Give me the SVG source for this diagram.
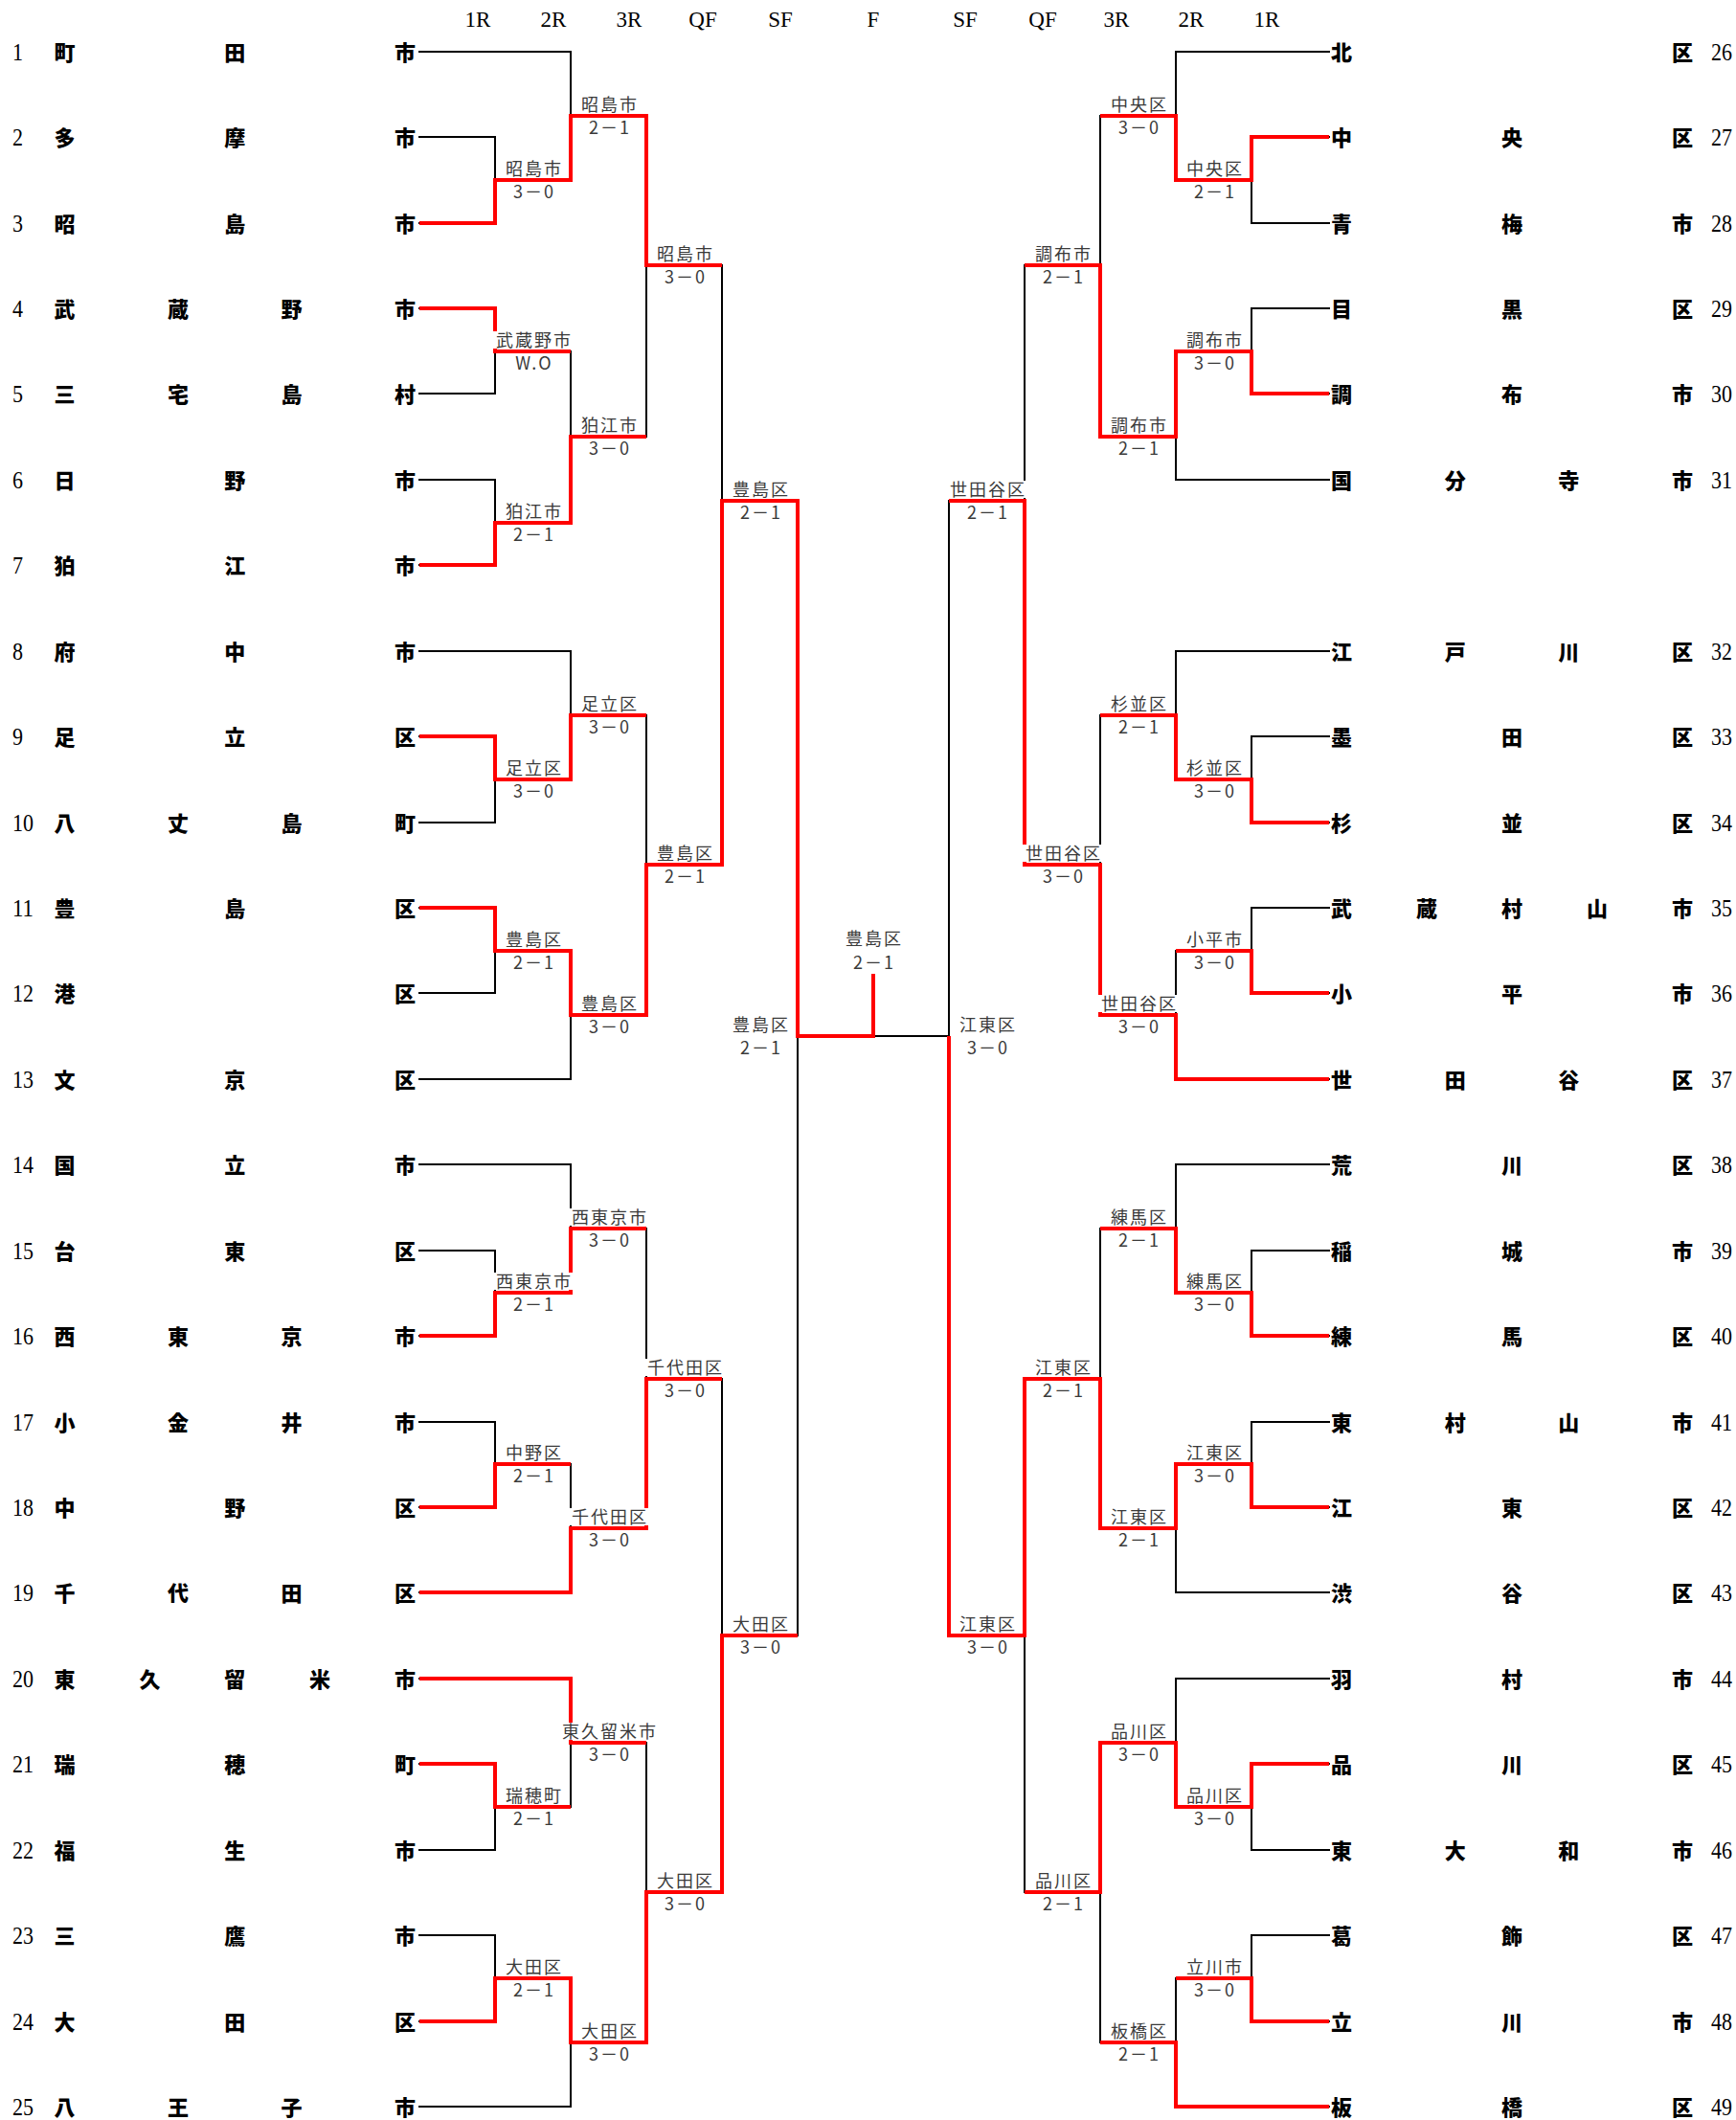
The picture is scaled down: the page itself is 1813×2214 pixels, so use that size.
<svg xmlns="http://www.w3.org/2000/svg" width="1813" height="2214" viewBox="0 0 1813 2214">
<style>
.b{fill:none;stroke:#000;stroke-width:2;stroke-linecap:square}
.r{fill:none;stroke:#f00;stroke-width:4;stroke-linejoin:miter;stroke-linecap:butt}
.nm{font-family:"Noto Sans CJK JP",sans-serif;font-weight:900;font-size:22px;fill:#000;text-anchor:middle}
.no{font-family:"Liberation Serif",serif;font-size:26px;fill:#000}
.hd{font-family:"Liberation Serif",serif;font-size:23px;fill:#000;text-anchor:middle}
.lb{font-family:"Noto Sans CJK JP",sans-serif;font-size:18px;fill:#3a3a3a;text-anchor:middle;letter-spacing:2px}
.bg{fill:#fff}
</style>
<rect width="1813" height="2214" fill="#fff"/>
<g id="headers">
<text class="hd" x="499" y="28">1R</text><text class="hd" x="578" y="28">2R</text><text class="hd" x="657" y="28">3R</text><text class="hd" x="734" y="28">QF</text><text class="hd" x="815" y="28">SF</text><text class="hd" x="912" y="28">F</text><text class="hd" x="1008" y="28">SF</text><text class="hd" x="1089" y="28">QF</text><text class="hd" x="1166" y="28">3R</text><text class="hd" x="1244" y="28">2R</text><text class="hd" x="1323" y="28">1R</text>
</g>
<g id="connectors">
<path class="b" d="M438 54H596 M438 143H517V233H438 M517 188H596 M438 322H517V411H438 M517 367H596 M438 501H517V590H438 M517 546H596 M438 680H596 M438 769H517V859H438 M517 814H596 M438 948H517V1037H438 M517 993H596 M438 1127H596 M438 1216H596 M438 1306H517V1395H438 M517 1350H596 M438 1485H517V1574H438 M517 1529H596 M438 1663H596 M438 1753H596 M438 1842H517V1932H438 M517 1887H596 M438 2021H517V2111H438 M517 2066H596 M438 2200H596
M596 54V188 M596 121H675 M596 367V546 M596 456H675 M596 680V814 M596 747H675 M596 993V1127 M596 1060H675 M596 1216V1350 M596 1283H675 M596 1529V1663 M596 1596H675 M596 1753V1887 M596 1820H675 M596 2066V2200 M596 2133H675
M675 121V456 M675 277H754 M675 747V1060 M675 903H754 M675 1283V1596 M675 1440H754 M675 1820V2133 M675 1976H754
M754 277V903 M754 523H833 M754 1440V1976 M754 1708H833
M833 523V1708 M833 1082H991
M991 523V1708
M1070 277V903 M1070 523H991 M1070 1440V1976 M1070 1708H991
M1149 121V456 M1149 277H1070 M1149 747V1060 M1149 903H1070 M1149 1283V1596 M1149 1440H1070 M1149 1820V2133 M1149 1976H1070
M1228 54V188 M1228 121H1149 M1228 367V501 M1228 456H1149 M1228 680V814 M1228 747H1149 M1228 993V1127 M1228 1060H1149 M1228 1216V1350 M1228 1283H1149 M1228 1529V1663 M1228 1596H1149 M1228 1753V1887 M1228 1820H1149 M1228 2066V2200 M1228 2133H1149
M1388 54H1228 M1388 143H1307V233H1388 M1307 188H1228 M1388 322H1307V411H1388 M1307 367H1228 M1388 501H1228 M1388 680H1228 M1388 769H1307V859H1388 M1307 814H1228 M1388 948H1307V1037H1388 M1307 993H1228 M1388 1127H1228 M1388 1216H1228 M1388 1306H1307V1395H1388 M1307 1350H1228 M1388 1485H1307V1574H1388 M1307 1529H1228 M1388 1663H1228 M1388 1753H1228 M1388 1842H1307V1932H1388 M1307 1887H1228 M1388 2021H1307V2111H1388 M1307 2066H1228 M1388 2200H1228"/>
<path class="r" d="M438 233H517V188H596V121H675V277H754"/>
<path class="r" d="M438 322H517V367H596"/>
<path class="r" d="M438 590H517V546H596V456H675"/>
<path class="r" d="M438 769H517V814H596V747H675"/>
<path class="r" d="M438 948H517V993H596V1060H675V903H754V523H833V1082H912V1017"/>
<path class="r" d="M438 1395H517V1350H596V1283H675"/>
<path class="r" d="M438 1574H517V1529H596"/>
<path class="r" d="M438 1663H596V1596H675V1440H754"/>
<path class="r" d="M438 1753H596V1820H675"/>
<path class="r" d="M438 1842H517V1887H596"/>
<path class="r" d="M438 2111H517V2066H596V2133H675V1976H754V1708H833"/>
<path class="r" d="M1388 143H1307V188H1228V121H1149"/>
<path class="r" d="M1388 411H1307V367H1228V456H1149V277H1070"/>
<path class="r" d="M1388 859H1307V814H1228V747H1149"/>
<path class="r" d="M1388 1037H1307V993H1228"/>
<path class="r" d="M1388 1127H1228V1060H1149V903H1070V523H991"/>
<path class="r" d="M1388 1395H1307V1350H1228V1283H1149"/>
<path class="r" d="M1388 1574H1307V1529H1228V1596H1149V1440H1070V1708H991V1082"/>
<path class="r" d="M1388 1842H1307V1887H1228V1820H1149V1976H1070"/>
<path class="r" d="M1388 2111H1307V2066H1228"/>
<path class="r" d="M1388 2200H1228V2133H1149"/>
</g>
<g id="results">
<rect class="bg" x="515" y="346" width="84" height="18"/>
<rect class="bg" x="515" y="1329" width="84" height="18"/>
<rect class="bg" x="593.5" y="1262" width="84" height="18"/>
<rect class="bg" x="593.5" y="1575" width="84" height="18"/>
<rect class="bg" x="586" y="1799" width="99" height="18"/>
<rect class="bg" x="672.5" y="1419" width="84" height="18"/>
<rect class="bg" x="1146.5" y="1039" width="84" height="18"/>
<rect class="bg" x="1067.5" y="882" width="84" height="18"/>
<rect class="bg" x="988.5" y="502" width="84" height="18"/>
<g id="m-L1R"><text class="lb" x="558" y="183">昭島市</text><text class="lb" x="558" y="207">3－0</text><text class="lb" x="558" y="362">武蔵野市</text><text class="lb" x="558" y="386">W.O</text><text class="lb" x="558" y="541">狛江市</text><text class="lb" x="558" y="565">2－1</text><text class="lb" x="558" y="809">足立区</text><text class="lb" x="558" y="833">3－0</text><text class="lb" x="558" y="988">豊島区</text><text class="lb" x="558" y="1012">2－1</text><text class="lb" x="558" y="1345">西東京市</text><text class="lb" x="558" y="1369">2－1</text><text class="lb" x="558" y="1524">中野区</text><text class="lb" x="558" y="1548">2－1</text><text class="lb" x="558" y="1882">瑞穂町</text><text class="lb" x="558" y="1906">2－1</text><text class="lb" x="558" y="2061">大田区</text><text class="lb" x="558" y="2085">2－1</text></g>
<g id="m-L2R"><text class="lb" x="637" y="116">昭島市</text><text class="lb" x="637" y="140">2－1</text><text class="lb" x="637" y="451">狛江市</text><text class="lb" x="637" y="475">3－0</text><text class="lb" x="637" y="742">足立区</text><text class="lb" x="637" y="766">3－0</text><text class="lb" x="637" y="1055">豊島区</text><text class="lb" x="637" y="1079">3－0</text><text class="lb" x="637" y="1278">西東京市</text><text class="lb" x="637" y="1302">3－0</text><text class="lb" x="637" y="1591">千代田区</text><text class="lb" x="637" y="1615">3－0</text><text class="lb" x="637" y="1815">東久留米市</text><text class="lb" x="637" y="1839">3－0</text><text class="lb" x="637" y="2128">大田区</text><text class="lb" x="637" y="2152">3－0</text></g>
<g id="m-L3R"><text class="lb" x="716" y="272">昭島市</text><text class="lb" x="716" y="296">3－0</text><text class="lb" x="716" y="898">豊島区</text><text class="lb" x="716" y="922">2－1</text><text class="lb" x="716" y="1435">千代田区</text><text class="lb" x="716" y="1459">3－0</text><text class="lb" x="716" y="1971">大田区</text><text class="lb" x="716" y="1995">3－0</text></g>
<g id="m-LQF"><text class="lb" x="795" y="518">豊島区</text><text class="lb" x="795" y="542">2－1</text><text class="lb" x="795" y="1703">大田区</text><text class="lb" x="795" y="1727">3－0</text></g>
<g id="m-LSF"><text class="lb" x="795" y="1077">豊島区</text><text class="lb" x="795" y="1101">2－1</text></g>
<g id="m-F"><text class="lb" x="913" y="987">豊島区</text><text class="lb" x="913" y="1012">2－1</text></g>
<g id="m-RSF"><text class="lb" x="1032" y="1077">江東区</text><text class="lb" x="1032" y="1101">3－0</text></g>
<g id="m-RQF"><text class="lb" x="1032" y="518">世田谷区</text><text class="lb" x="1032" y="542">2－1</text><text class="lb" x="1032" y="1703">江東区</text><text class="lb" x="1032" y="1727">3－0</text></g>
<g id="m-R3R"><text class="lb" x="1111" y="272">調布市</text><text class="lb" x="1111" y="296">2－1</text><text class="lb" x="1111" y="898">世田谷区</text><text class="lb" x="1111" y="922">3－0</text><text class="lb" x="1111" y="1435">江東区</text><text class="lb" x="1111" y="1459">2－1</text><text class="lb" x="1111" y="1971">品川区</text><text class="lb" x="1111" y="1995">2－1</text></g>
<g id="m-R2R"><text class="lb" x="1190" y="116">中央区</text><text class="lb" x="1190" y="140">3－0</text><text class="lb" x="1190" y="451">調布市</text><text class="lb" x="1190" y="475">2－1</text><text class="lb" x="1190" y="742">杉並区</text><text class="lb" x="1190" y="766">2－1</text><text class="lb" x="1190" y="1055">世田谷区</text><text class="lb" x="1190" y="1079">3－0</text><text class="lb" x="1190" y="1278">練馬区</text><text class="lb" x="1190" y="1302">2－1</text><text class="lb" x="1190" y="1591">江東区</text><text class="lb" x="1190" y="1615">2－1</text><text class="lb" x="1190" y="1815">品川区</text><text class="lb" x="1190" y="1839">3－0</text><text class="lb" x="1190" y="2128">板橋区</text><text class="lb" x="1190" y="2152">2－1</text></g>
<g id="m-R1R"><text class="lb" x="1269" y="183">中央区</text><text class="lb" x="1269" y="207">2－1</text><text class="lb" x="1269" y="362">調布市</text><text class="lb" x="1269" y="386">3－0</text><text class="lb" x="1269" y="809">杉並区</text><text class="lb" x="1269" y="833">3－0</text><text class="lb" x="1269" y="988">小平市</text><text class="lb" x="1269" y="1012">3－0</text><text class="lb" x="1269" y="1345">練馬区</text><text class="lb" x="1269" y="1369">3－0</text><text class="lb" x="1269" y="1524">江東区</text><text class="lb" x="1269" y="1548">3－0</text><text class="lb" x="1269" y="1882">品川区</text><text class="lb" x="1269" y="1906">3－0</text><text class="lb" x="1269" y="2061">立川市</text><text class="lb" x="1269" y="2085">3－0</text></g>
</g>
<g id="teams-left">
<g id="t1"><text class="no" x="13" y="63" textLength="11" lengthAdjust="spacingAndGlyphs">1</text><text class="nm" x="67.5 245.25 423" y="62.5">町田市</text></g>
<g id="t2"><text class="no" x="13" y="152" textLength="11" lengthAdjust="spacingAndGlyphs">2</text><text class="nm" x="67.5 245.25 423" y="151.5">多摩市</text></g>
<g id="t3"><text class="no" x="13" y="242" textLength="11" lengthAdjust="spacingAndGlyphs">3</text><text class="nm" x="67.5 245.25 423" y="241.5">昭島市</text></g>
<g id="t4"><text class="no" x="13" y="331" textLength="11" lengthAdjust="spacingAndGlyphs">4</text><text class="nm" x="67.5 186 304.5 423" y="330.5">武蔵野市</text></g>
<g id="t5"><text class="no" x="13" y="420" textLength="11" lengthAdjust="spacingAndGlyphs">5</text><text class="nm" x="67.5 186 304.5 423" y="419.5">三宅島村</text></g>
<g id="t6"><text class="no" x="13" y="510" textLength="11" lengthAdjust="spacingAndGlyphs">6</text><text class="nm" x="67.5 245.25 423" y="509.5">日野市</text></g>
<g id="t7"><text class="no" x="13" y="599" textLength="11" lengthAdjust="spacingAndGlyphs">7</text><text class="nm" x="67.5 245.25 423" y="598.5">狛江市</text></g>
<g id="t8"><text class="no" x="13" y="689" textLength="11" lengthAdjust="spacingAndGlyphs">8</text><text class="nm" x="67.5 245.25 423" y="688.5">府中市</text></g>
<g id="t9"><text class="no" x="13" y="778" textLength="11" lengthAdjust="spacingAndGlyphs">9</text><text class="nm" x="67.5 245.25 423" y="777.5">足立区</text></g>
<g id="t10"><text class="no" x="13" y="868" textLength="22" lengthAdjust="spacingAndGlyphs">10</text><text class="nm" x="67.5 186 304.5 423" y="867.5">八丈島町</text></g>
<g id="t11"><text class="no" x="13" y="957" textLength="22" lengthAdjust="spacingAndGlyphs">11</text><text class="nm" x="67.5 245.25 423" y="956.5">豊島区</text></g>
<g id="t12"><text class="no" x="13" y="1046" textLength="22" lengthAdjust="spacingAndGlyphs">12</text><text class="nm" x="67.5 423" y="1045.5">港区</text></g>
<g id="t13"><text class="no" x="13" y="1136" textLength="22" lengthAdjust="spacingAndGlyphs">13</text><text class="nm" x="67.5 245.25 423" y="1135.5">文京区</text></g>
<g id="t14"><text class="no" x="13" y="1225" textLength="22" lengthAdjust="spacingAndGlyphs">14</text><text class="nm" x="67.5 245.25 423" y="1224.5">国立市</text></g>
<g id="t15"><text class="no" x="13" y="1315" textLength="22" lengthAdjust="spacingAndGlyphs">15</text><text class="nm" x="67.5 245.25 423" y="1314.5">台東区</text></g>
<g id="t16"><text class="no" x="13" y="1404" textLength="22" lengthAdjust="spacingAndGlyphs">16</text><text class="nm" x="67.5 186 304.5 423" y="1403.5">西東京市</text></g>
<g id="t17"><text class="no" x="13" y="1494" textLength="22" lengthAdjust="spacingAndGlyphs">17</text><text class="nm" x="67.5 186 304.5 423" y="1493.5">小金井市</text></g>
<g id="t18"><text class="no" x="13" y="1583" textLength="22" lengthAdjust="spacingAndGlyphs">18</text><text class="nm" x="67.5 245.25 423" y="1582.5">中野区</text></g>
<g id="t19"><text class="no" x="13" y="1672" textLength="22" lengthAdjust="spacingAndGlyphs">19</text><text class="nm" x="67.5 186 304.5 423" y="1671.5">千代田区</text></g>
<g id="t20"><text class="no" x="13" y="1762" textLength="22" lengthAdjust="spacingAndGlyphs">20</text><text class="nm" x="67.5 156.4 245.25 334.1 423" y="1761.5">東久留米市</text></g>
<g id="t21"><text class="no" x="13" y="1851" textLength="22" lengthAdjust="spacingAndGlyphs">21</text><text class="nm" x="67.5 245.25 423" y="1850.5">瑞穂町</text></g>
<g id="t22"><text class="no" x="13" y="1941" textLength="22" lengthAdjust="spacingAndGlyphs">22</text><text class="nm" x="67.5 245.25 423" y="1940.5">福生市</text></g>
<g id="t23"><text class="no" x="13" y="2030" textLength="22" lengthAdjust="spacingAndGlyphs">23</text><text class="nm" x="67.5 245.25 423" y="2029.5">三鷹市</text></g>
<g id="t24"><text class="no" x="13" y="2120" textLength="22" lengthAdjust="spacingAndGlyphs">24</text><text class="nm" x="67.5 245.25 423" y="2119.5">大田区</text></g>
<g id="t25"><text class="no" x="13" y="2209" textLength="22" lengthAdjust="spacingAndGlyphs">25</text><text class="nm" x="67.5 186 304.5 423" y="2208.5">八王子市</text></g>
</g>
<g id="teams-right">
<g id="t26"><text class="nm" x="1401 1757" y="62.5">北区</text><text class="no" x="1787" y="63" textLength="22" lengthAdjust="spacingAndGlyphs">26</text></g>
<g id="t27"><text class="nm" x="1401 1579 1757" y="151.5">中央区</text><text class="no" x="1787" y="152" textLength="22" lengthAdjust="spacingAndGlyphs">27</text></g>
<g id="t28"><text class="nm" x="1401 1579 1757" y="241.5">青梅市</text><text class="no" x="1787" y="242" textLength="22" lengthAdjust="spacingAndGlyphs">28</text></g>
<g id="t29"><text class="nm" x="1401 1579 1757" y="330.5">目黒区</text><text class="no" x="1787" y="331" textLength="22" lengthAdjust="spacingAndGlyphs">29</text></g>
<g id="t30"><text class="nm" x="1401 1579 1757" y="419.5">調布市</text><text class="no" x="1787" y="420" textLength="22" lengthAdjust="spacingAndGlyphs">30</text></g>
<g id="t31"><text class="nm" x="1401 1519.7 1638.3 1757" y="509.5">国分寺市</text><text class="no" x="1787" y="510" textLength="22" lengthAdjust="spacingAndGlyphs">31</text></g>
<g id="t32"><text class="nm" x="1401 1519.7 1638.3 1757" y="688.5">江戸川区</text><text class="no" x="1787" y="689" textLength="22" lengthAdjust="spacingAndGlyphs">32</text></g>
<g id="t33"><text class="nm" x="1401 1579 1757" y="777.5">墨田区</text><text class="no" x="1787" y="778" textLength="22" lengthAdjust="spacingAndGlyphs">33</text></g>
<g id="t34"><text class="nm" x="1401 1579 1757" y="867.5">杉並区</text><text class="no" x="1787" y="868" textLength="22" lengthAdjust="spacingAndGlyphs">34</text></g>
<g id="t35"><text class="nm" x="1401 1490 1579 1668 1757" y="956.5">武蔵村山市</text><text class="no" x="1787" y="957" textLength="22" lengthAdjust="spacingAndGlyphs">35</text></g>
<g id="t36"><text class="nm" x="1401 1579 1757" y="1045.5">小平市</text><text class="no" x="1787" y="1046" textLength="22" lengthAdjust="spacingAndGlyphs">36</text></g>
<g id="t37"><text class="nm" x="1401 1519.7 1638.3 1757" y="1135.5">世田谷区</text><text class="no" x="1787" y="1136" textLength="22" lengthAdjust="spacingAndGlyphs">37</text></g>
<g id="t38"><text class="nm" x="1401 1579 1757" y="1224.5">荒川区</text><text class="no" x="1787" y="1225" textLength="22" lengthAdjust="spacingAndGlyphs">38</text></g>
<g id="t39"><text class="nm" x="1401 1579 1757" y="1314.5">稲城市</text><text class="no" x="1787" y="1315" textLength="22" lengthAdjust="spacingAndGlyphs">39</text></g>
<g id="t40"><text class="nm" x="1401 1579 1757" y="1403.5">練馬区</text><text class="no" x="1787" y="1404" textLength="22" lengthAdjust="spacingAndGlyphs">40</text></g>
<g id="t41"><text class="nm" x="1401 1519.7 1638.3 1757" y="1493.5">東村山市</text><text class="no" x="1787" y="1494" textLength="22" lengthAdjust="spacingAndGlyphs">41</text></g>
<g id="t42"><text class="nm" x="1401 1579 1757" y="1582.5">江東区</text><text class="no" x="1787" y="1583" textLength="22" lengthAdjust="spacingAndGlyphs">42</text></g>
<g id="t43"><text class="nm" x="1401 1579 1757" y="1671.5">渋谷区</text><text class="no" x="1787" y="1672" textLength="22" lengthAdjust="spacingAndGlyphs">43</text></g>
<g id="t44"><text class="nm" x="1401 1579 1757" y="1761.5">羽村市</text><text class="no" x="1787" y="1762" textLength="22" lengthAdjust="spacingAndGlyphs">44</text></g>
<g id="t45"><text class="nm" x="1401 1579 1757" y="1850.5">品川区</text><text class="no" x="1787" y="1851" textLength="22" lengthAdjust="spacingAndGlyphs">45</text></g>
<g id="t46"><text class="nm" x="1401 1519.7 1638.3 1757" y="1940.5">東大和市</text><text class="no" x="1787" y="1941" textLength="22" lengthAdjust="spacingAndGlyphs">46</text></g>
<g id="t47"><text class="nm" x="1401 1579 1757" y="2029.5">葛飾区</text><text class="no" x="1787" y="2030" textLength="22" lengthAdjust="spacingAndGlyphs">47</text></g>
<g id="t48"><text class="nm" x="1401 1579 1757" y="2119.5">立川市</text><text class="no" x="1787" y="2120" textLength="22" lengthAdjust="spacingAndGlyphs">48</text></g>
<g id="t49"><text class="nm" x="1401 1579 1757" y="2208.5">板橋区</text><text class="no" x="1787" y="2209" textLength="22" lengthAdjust="spacingAndGlyphs">49</text></g>
</g>
</svg>
